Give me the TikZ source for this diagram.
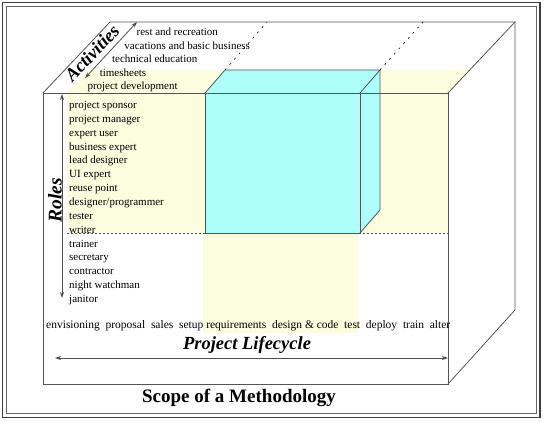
\documentclass[tikz,border=0pt]{standalone}
\usepackage{fontspec}
\setmainfont{Liberation Serif}
\usetikzlibrary{arrows.meta}
\definecolor{paleyellow}{RGB}{252,252,222}
\definecolor{palecyan}{RGB}{172,255,250}
\definecolor{edgegray}{RGB}{85,85,85}
\begin{document}
\begin{tikzpicture}[x=1pt,y=-1pt,
  txt/.style={font=\fontsize{11}{13}\selectfont, inner sep=0pt, anchor=base west},
  lifetxt/.style={font=\fontsize{11.5}{13}\selectfont, inner sep=0pt, anchor=base west},
  biglbl/.style={font=\fontsize{18.5}{20}\selectfont\bfseries\itshape, inner sep=0pt},
  edgeline/.style={draw=edgegray, line width=0.8pt},
  dblarrow/.style={draw=black!70, line width=0.8pt, {Stealth[length=6pt,width=4pt]}-{Stealth[length=6pt,width=4pt]}},
  sparsedash/.style={draw=black, line width=0.6pt, dash pattern=on 2pt off 5pt},
  finedash/.style={draw=black!70, line width=0.6pt, dash pattern=on 2pt off 2pt}]
\useasboundingbox (0,0) rectangle (545,422);
% frame
\draw[draw=black!75, line width=1.6pt] (2.5,2.5) rectangle (540,417.5);
\draw[draw=black!60, line width=0.6pt] (6.5,6.5) rectangle (536.5,413.5);
% big box corners
\coordinate (F1) at (43,93);
\coordinate (F2) at (448,93);
\coordinate (F3) at (448,384);
\coordinate (F4) at (43,384);
\coordinate (B1) at (110,22);
\coordinate (B2) at (515,22);
\coordinate (B3) at (515,310);
% yellow regions
\fill[paleyellow] (67,93) -- (448,93) -- (469.7,70) -- (88.7,70) -- cycle;
\fill[paleyellow] (67,93) rectangle (448,233);
\fill[paleyellow] (203,233) rectangle (358,333);
% horizontal dashed
\coordinate (D1) at (67,233);
\coordinate (D2) at (448,233);
\draw[finedash] (D1) -- (D2);
% cyan box
\coordinate (C1) at (205,93);
\coordinate (C2) at (360,93);
\coordinate (C3) at (360,233);
\coordinate (C4) at (205,233);
\coordinate (C5) at (225,70);
\coordinate (C6) at (380,70);
\coordinate (C7) at (380,210);
\fill[palecyan] (C1) -- (C5) -- (C6) -- (C7) -- (C3) -- (C4) -- cycle;
\draw[edgeline] (C1) -- (C2) -- (C3) -- (C4) -- cycle;
\draw[edgeline] (C1) -- (C5) -- (C6) -- (C2);
\draw[edgeline] (C6) -- (C7) -- (C3);
% big box edges
\draw[edgeline] (F1) -- (F2) -- (F3) -- (F4) -- cycle;
\draw[edgeline] (F1) -- (B1) -- (B2) -- (F2);
\draw[edgeline] (B2) -- (B3) -- (F3);
% dashed activity extension
\coordinate (E1) at (267,22);
\coordinate (E2) at (423,22);
\draw[sparsedash] (C5) -- (E1);
\draw[sparsedash] (C6) -- (E2);
% arrows
\coordinate (R1) at (62,94);
\coordinate (R2) at (62,298);
\draw[dblarrow] (R1) -- (R2);
\coordinate (A1) at (85,78);
\coordinate (A2) at (137,22);
\draw[dblarrow] (A1) -- (A2);
\coordinate (L1) at (55,358);
\coordinate (L2) at (448,358);
\draw[dblarrow] (L1) -- (L2);
% labels
\node[biglbl, font=\fontsize{19.5}{21}\selectfont\bfseries\itshape, rotate=90] (roles) at (55,200) {Roles};
\node[biglbl, rotate=46.7] (activities) at (92,53) {Activities};
\node[biglbl, anchor=base] (lifecycle) at (247,349) {Project Lifecycle};
\node[font=\fontsize{19}{21}\selectfont\bfseries, inner sep=0pt, anchor=base] (title) at (239,402) {Scope of a Methodology};
% activities list
\node[txt] (a1) at (136.5,36) {rest and recreation};
\node[txt] (a2) at (124.2,49.5) {vacations and basic business};
\node[txt] (a3) at (111.9,63) {technical education};
\node[txt] (a4) at (99.6,76.5) {timesheets};
\node[txt] (a5) at (87.3,90) {project development};
% roles list
\node[txt] (r1) at (69,108.5) {project sponsor};
\node[txt] (r2) at (69,122.35) {project manager};
\node[txt] (r3) at (69,136.2) {expert user};
\node[txt] (r4) at (69,150.05) {business expert};
\node[txt] (r5) at (69,163.9) {lead designer};
\node[txt] (r6) at (69,177.75) {UI expert};
\node[txt] (r7) at (69,191.6) {reuse point};
\node[txt] (r8) at (69,205.45) {designer/programmer};
\node[txt] (r9) at (69,219.3) {tester};
\node[txt] (r10) at (69,233.15) {writer};
\node[txt] (r11) at (69,247) {trainer};
\node[txt] (r12) at (69,260.85) {secretary};
\node[txt] (r13) at (69,274.7) {contractor};
\node[txt] (r14) at (69,288.55) {night watchman};
\node[txt] (r15) at (69,302.4) {janitor};
% lifecycle words
\node[lifetxt] (w1) at (46,328) {envisioning};
\node[lifetxt] (w2) at (105.4,328) {proposal};
\node[lifetxt] (w3) at (150.8,328) {sales};
\node[lifetxt] (w4) at (178.9,328) {setup};
\node[lifetxt] (w5) at (206.1,328) {requirements};
\node[lifetxt] (w6) at (271.9,328) {design \& code};
\node[lifetxt] (w7) at (344,328) {test};
\node[lifetxt] (w8) at (365.7,328) {deploy};
\node[lifetxt] (w9) at (402.8,328) {train};
\node[lifetxt] (w10) at (429.6,328) {alter};
\end{tikzpicture}
\end{document}
